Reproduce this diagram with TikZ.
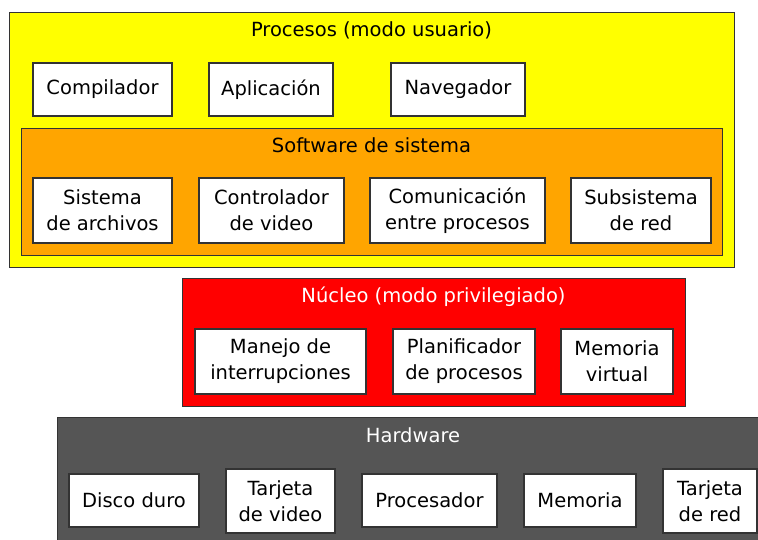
\documentclass[tikz,border=0pt]{standalone}
\usepackage{fontspec}
\setmainfont{DejaVu Sans}
\definecolor{cyellow}{HTML}{FFFF00}
\definecolor{corange}{HTML}{FFA500}
\definecolor{cred}{HTML}{FF0000}
\definecolor{chw}{HTML}{555555}
\definecolor{cedge}{HTML}{333333}
\tikzset{
  layer/.style={draw=cedge, line width=1pt, inner sep=0pt, rectangle},
  item/.style={draw=cedge, line width=1.2pt, fill=white, inner sep=0pt, align=center,
    font=\fontsize{19.5}{26}\selectfont, minimum height=53pt},
  tall/.style={minimum height=65pt},
  title/.style={inner sep=0pt, font=\fontsize{19.5}{26}\selectfont},
}
\begin{document}
\begin{tikzpicture}[x=1pt,y=-1pt]
\clip (0,0) rectangle (758,539);
\fill[white] (0,0) rectangle (758,539);
% Procesos
\node[layer, fill=cyellow, minimum width=725pt, minimum height=255pt] (proc) at (371.5,139.5) {};
\node[title] (proct) at (371.5,30) {Procesos (modo usuario)};
\node[item, minimum width=139pt] (comp) at (102.5,89.5) {Compilador};
\node[item, minimum width=124pt] (apl) at (271,89.5) {Aplicación};
\node[item, minimum width=134pt] (nav) at (458,89.5) {Navegador};
% Software de sistema
\node[layer, fill=corange, minimum width=701pt, minimum height=127pt] (sw) at (371.5,191.5) {};
\node[title] (swt) at (371.5,145) {Software de sistema};
\node[item, tall, minimum width=139pt] (fs) at (102.5,210.5) {Sistema\\de archivos};
\node[item, tall, minimum width=145pt] (cv) at (271.5,210.5) {Controlador\\de video};
\node[item, tall, minimum width=175pt] (ipc) at (457.5,210.5) {Comunicación\\entre procesos};
\node[item, tall, minimum width=140pt] (net) at (641,210.5) {Subsistema\\de red};
% Nucleo
\node[layer, fill=cred, minimum width=503pt, minimum height=128pt] (nuc) at (433.5,342) {};
\node[title, text=white] (nuct) at (433.5,297) {Núcleo (modo privilegiado)};
\node[item, tall, minimum width=171pt] (irq) at (280.5,361.5) {Manejo de\\interrupciones};
\node[item, tall, minimum width=142pt] (sched) at (464,361.5) {Planificador\\de procesos};
\node[item, tall, minimum width=112pt] (vm) at (617,361.5) {Memoria\\virtual};
% Hardware
\node[layer, fill=chw, minimum width=712pt, minimum height=160pt] (hw) at (413,497) {};
\node[title, text=white] (hwt) at (413,435) {Hardware};
\node[item, minimum width=130pt] (disk) at (134,500.5) {Disco duro};
\node[item, minimum width=109pt, minimum height=64pt] (gpu) at (280.5,501) {Tarjeta\\de video};
\node[item, minimum width=135pt] (cpu) at (429.5,500.5) {Procesador};
\node[item, minimum width=112pt] (mem) at (580,500.5) {Memoria};
\node[item, minimum width=94pt, minimum height=64pt] (nic) at (710,501) {Tarjeta\\de red};
\end{tikzpicture}
\end{document}
